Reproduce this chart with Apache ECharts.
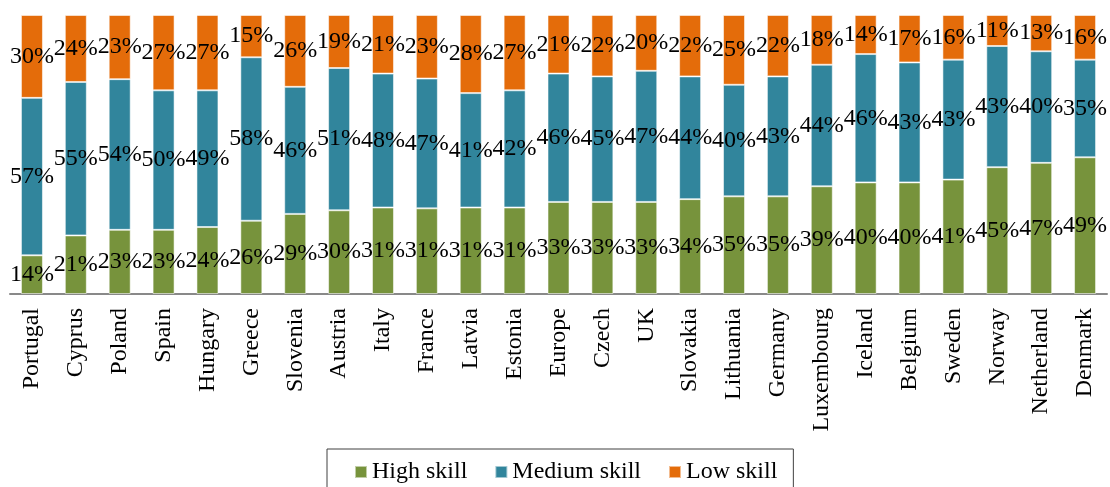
<!DOCTYPE html>
<html><head><meta charset="utf-8">
<script src="https://cdn.jsdelivr.net/npm/echarts@6/dist/echarts.min.js"></script>
<style>html,body{margin:0;padding:0;background:#fff}#c{width:1110px;height:487px}</style>
</head><body><div id="c"></div>
<script>
var categories = ["Portugal","Cyprus","Poland","Spain","Hungary","Greece","Slovenia","Austria","Italy","France","Latvia","Estonia","Europe","Czech","UK","Slovakia","Lithuania","Germany","Luxembourg","Iceland","Belgium","Sweden","Norway","Netherland","Denmark"];
var highSkill   = [14,21,23,23,24,26,29,30,31,31,31,31,33,33,33,34,35,35,39,40,40,41,45,47,49];
var mediumSkill = [57,55,54,50,49,58,46,51,48,47,41,42,46,45,47,44,40,43,44,46,43,43,43,40,35];
var lowSkill    = [30,24,23,27,27,15,26,19,21,23,28,27,21,22,20,22,25,22,18,14,17,16,11,13,16];
var seriesNames = ["High skill","Medium skill","Low skill"];
var colors = ["#77933C","#31859C","#E46C0A"];

var FONT = '"Liberation Serif","Times New Roman",serif';
var all = [highSkill, mediumSkill, lowSkill];
function build(arr){
  return arr.map(function(v,i){
    var tot = highSkill[i]+mediumSkill[i]+lowSkill[i];
    return {value: v/tot*100, raw: v};
  });
}
var series = all.map(function(arr,k){
  return {
    name: seriesNames[k], type:'bar', stack:'s', barWidth:22,
    data: build(arr),
    itemStyle:{color:colors[k], borderColor:'rgba(255,255,255,0.55)', borderWidth:1},
    label:{show:true, position:'inside', color:'#000', fontFamily:FONT, fontSize:24,
      formatter:function(p){return p.data.raw+'%';}},
    emphasis:{disabled:true}
  };
});
var chart = echarts.init(document.getElementById('c'));
chart.setOption({
  animation:false,
  grid:{left:10,right:3,top:15,bottom:193,containLabel:false},
  legend:{
    data:seriesNames, left:327, top:449, orient:'horizontal',
    itemWidth:12, itemHeight:12, itemGap:27, icon:'rect',
    padding:[11,16,20,27], borderColor:'#404040', borderWidth:1,
    textStyle:{fontFamily:FONT, fontSize:24, color:'#000'}
  },
  xAxis:{type:'category', data:categories,
    axisLine:{lineStyle:{color:'#898989', width:2}},
    axisTick:{show:false},
    axisLabel:{rotate:90, margin:14, interval:0, color:'#000', fontFamily:FONT, fontSize:24}
  },
  yAxis:{type:'value', min:0, max:100, show:false, splitLine:{show:false}},
  series:series
});
</script></body></html>
